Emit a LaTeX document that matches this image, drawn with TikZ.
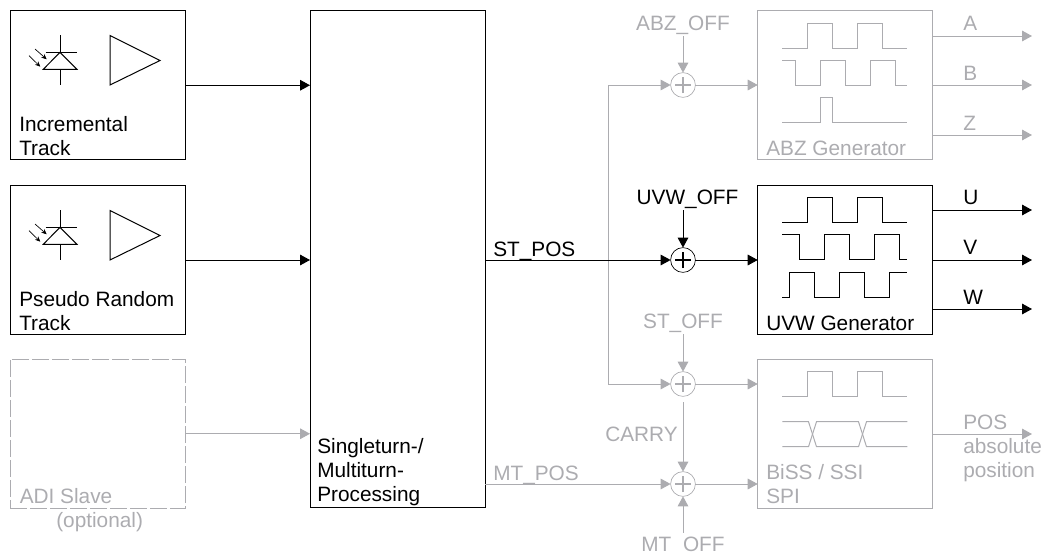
\documentclass[tikz,border=0pt]{standalone}
\usepackage{xcolor}
\usepackage{fontspec}
\setmainfont{Liberation Sans}
\usetikzlibrary{shapes,arrows.meta,positioning}
\definecolor{fade}{HTML}{ACACB0}

\begin{document}
\begin{tikzpicture}[
  x=0.75pt,
  y=-0.75pt,
  box/.style={
    rectangle,
    draw=black,
    line width=0.75pt,
    outer sep=0pt,
    minimum width=130.9pt,
    minimum height=112.1pt
  },
  fadebox/.style={
    box,
    draw=fade
  },
  sumnode/.style={
    circle,
    draw=#1,
    fill=white,
    line width=0.5pt,
    inner sep=0pt,
    outer sep=0pt,
    minimum size=18.6pt,
    path picture={
      \draw[#1, line width=1.3pt]
        ([xshift=-6pt]path picture bounding box.center) -- ([xshift=6pt]path picture bounding box.center)
        ([yshift=-6pt]path picture bounding box.center) -- ([yshift=6pt]path picture bounding box.center);
    }
  },
  txt/.style={
    anchor=base west,
    inner sep=0pt,
    align=left,
    font=\fontsize{15.6}{18}\selectfont
  },
  offtxt/.style={
    anchor=base,
    inner sep=0pt,
    text depth=4.5pt,
    font=\fontsize{15.6}{18}\selectfont
  },
  arrow/.style={
    -{Triangle[length=7.5pt,width=8pt]},
    line width=0.75pt
  },
  wave/.style={
    line width=0.75pt
  }
]
  \useasboundingbox (0,0) rectangle (1046,553);

  % Input tracks
  \node[box] (incr) at (97.75,85.25) {};
  \node[box] (pseudo) at (97.75,260) {};
  \node[fadebox, dash pattern=on 12.5pt off 2.5pt] (adi) at (97.75,433.75) {};
  \node[txt] (incrtxt) at (19,155) {Incremental\\Track};
  \node[txt] (pseudotxt) at (19,330) {Pseudo Random\\Track};
  \node[txt, fade] (aditxt) at (19.5,503) {ADI Slave};
  \node[txt, fade] (opttxt) at (56,527) {(optional)};

  % Photodiode and amplifier, upper track
  \draw[wave] (45.7,52.3) -- (77,52.3);
  \draw[wave] (60,52.3) -- (43.3,69.3) -- (77,69.3) -- cycle;
  \draw[wave] (60,35) -- (60,52.3);
  \draw[wave] (60,69.3) -- (60,85);
  \draw[-{Stealth[length=4pt,width=3.5pt]}, line width=0.5pt] (35,49) -- (46.7,59.3);
  \draw[-{Stealth[length=4pt,width=3.5pt]}, line width=0.5pt] (29,55.7) -- (40.3,66.7);
  \draw[wave] (110,35.5) -- (160,60.5) -- (110,85) -- cycle;

  % Photodiode and amplifier, lower track
  \draw[wave] (45.7,227.3) -- (77,227.3);
  \draw[wave] (60,227.3) -- (43.3,244.3) -- (77,244.3) -- cycle;
  \draw[wave] (60,210) -- (60,227.3);
  \draw[wave] (60,244.3) -- (60,260);
  \draw[-{Stealth[length=4pt,width=3.5pt]}, line width=0.5pt] (35,224) -- (46.7,234.3);
  \draw[-{Stealth[length=4pt,width=3.5pt]}, line width=0.5pt] (29,230.7) -- (40.3,241.7);
  \draw[wave] (110,210.5) -- (160,235.5) -- (110,260) -- cycle;

  % Processing
  \node[box, minimum width=131.25pt, minimum height=373.1pt] (proc) at (397.5,259.25) {};
  \node[txt] (proctxt) at (317,501) {Singleturn-/\\Multiturn-\\Processing};

  % Generators
  \node[fadebox] (abz) at (845,85.25) {};
  \node[box] (uvw) at (845,260) {};
  \node[fadebox] (biss) at (845,433.75) {};
  \node[txt, fade] (abztxt) at (766,155.7) {ABZ Generator};
  \node[txt] (uvwtxt) at (766,330) {UVW Generator};
  \node[txt, fade] (bisstxt) at (766,503) {BiSS / SSI\\SPI};

  % Adders
  \node[sumnode=fade] (sumabz) at (683,85) {};
  \node[sumnode=black] (sumuvw) at (683,260) {};
  \node[sumnode=fade] (sumst) at (683,384) {};
  \node[sumnode=fade] (summt) at (683,484) {};

  % Offsets
  \node[offtxt, fade] (abzoff) at (683,30) {ABZ\_OFF};
  \node[offtxt] (uvwoff) at (687.5,204) {UVW\_OFF};
  \node[offtxt, fade] (stoff) at (683,328) {ST\_OFF};
  \node[offtxt, fade, text depth=0pt, text height=13.5pt] (mtoff) at (683,551) {MT\_OFF};
  \node[txt, fade] (carrytxt) at (605,441) {CARRY};

  % Bus labels
  \node[txt] (stpos) at (493,256) {ST\_POS};
  \node[txt, fade] (mtpos) at (493,480) {MT\_POS};
  \coordinate (branch) at (608,260);

  % Output ends
  \coordinate (aend) at (1032,36);
  \coordinate (bend) at (1032,85);
  \coordinate (zend) at (1032,135);
  \coordinate (uend) at (1032,210);
  \coordinate (vend) at (1032,260);
  \coordinate (wend) at (1032,309);
  \coordinate (posend) at (1032,434);

  % Output labels
  \node[txt, fade] (atxt) at (963,30) {A};
  \node[txt, fade] (btxt) at (963,80) {B};
  \node[txt, fade] (ztxt) at (963,130) {Z};
  \node[txt] (utxt) at (963,204) {U};
  \node[txt] (vtxt) at (963,254) {V};
  \node[txt] (wtxt) at (963,304) {W};
  \node[txt, fade] (postxt) at (963,429) {POS};
  \node[txt, fade] (abstxt) at (963,477) {absolute\\position};

  % ABZ waveforms
  \draw[wave, fade] (782.3,48.3) -- (807.7,48.3) -- (807.7,23.3) -- (832.7,23.3) -- (832.7,48.3) -- (857.7,48.3) -- (857.7,23.3) -- (882.7,23.3) -- (882.7,48.3) -- (907.3,48.3);
  \draw[wave, fade] (782.3,60.3) -- (795.3,60.3) -- (795.3,85) -- (820.3,85) -- (820.3,60.3) -- (845.3,60.3) -- (845.3,85) -- (870.3,85) -- (870.3,60.3) -- (895.3,60.3) -- (895.3,85) -- (907.3,85);
  \draw[wave, fade] (782.3,122.7) -- (820.3,122.7) -- (820.3,97.7) -- (832.7,97.7) -- (832.7,122.7) -- (907.3,122.7);

  % UVW waveforms
  \draw[wave] (782.3,222.3) -- (807.7,222.3) -- (807.7,197.3) -- (832.7,197.3) -- (832.7,222.3) -- (857.7,222.3) -- (857.7,197.3) -- (882.7,197.3) -- (882.7,222.3) -- (907.3,222.3);
  \draw[wave] (782.3,234.7) -- (799.3,234.7) -- (799.3,259.7) -- (824.3,259.7) -- (824.3,234.7) -- (849.3,234.7) -- (849.3,259.7) -- (874.3,259.7) -- (874.3,234.7) -- (899.3,234.7) -- (899.3,259.7) -- (907.3,259.7);
  \draw[wave] (782.3,297.3) -- (789.3,297.3) -- (789.3,272.3) -- (814.3,272.3) -- (814.3,297.3) -- (839.3,297.3) -- (839.3,272.3) -- (864.3,272.3) -- (864.3,297.3) -- (889.3,297.3) -- (889.3,272.3) -- (907.3,272.3);

  % BiSS waveforms
  \draw[wave, fade] (782.3,396.7) -- (807.7,396.7) -- (807.7,371.7) -- (832.7,371.7) -- (832.7,396.7) -- (857.7,396.7) -- (857.7,371.7) -- (882.7,371.7) -- (882.7,396.7) -- (907.3,396.7);
  \draw[wave, fade] (782.3,421.7) -- (808.5,421.7) -- (816.5,446.7) -- (858.5,446.7) -- (866.5,421.7) -- (907.3,421.7);
  \draw[wave, fade] (782.3,446.7) -- (808.5,446.7) -- (816.5,421.7) -- (858.5,421.7) -- (866.5,446.7) -- (907.3,446.7);

  % Arrows - Inputs
  \draw[arrow] (incr.east) -- (proc.west |- incr.east);
  \draw[arrow] (pseudo.east) -- (proc.west |- pseudo.east);
  \draw[arrow, fade] (adi.east) -- (proc.west |- adi.east);

  % Arrows - Position buses
  \draw[arrow, fade] (branch) |- (sumabz);
  \draw[arrow, fade] (branch) |- (sumst);
  \draw[arrow] (proc.east |- sumuvw) -- (sumuvw);
  \draw[arrow, fade] (proc.east |- summt) -- (summt);

  % Arrows - Offsets
  \draw[arrow, fade] (abzoff.south) -- (sumabz);
  \draw[arrow] (uvwoff.south -| sumuvw) -- (sumuvw);
  \draw[arrow, fade] (stoff.south) -- (sumst);
  \draw[arrow, fade] (mtoff.north) -- (summt);
  \draw[arrow, fade, shorten <=4.5pt] (sumst) -- (summt);

  % Arrows - To generators
  \draw[arrow, fade] (sumabz) -- (abz.west |- sumabz);
  \draw[arrow] (sumuvw) -- (uvw.west |- sumuvw);
  \draw[arrow, fade] (sumst) -- (biss.west |- sumst);
  \draw[arrow, fade] (summt) -- (biss.west |- summt);

  % Arrows - Outputs
  \draw[arrow, fade] (abz.east |- aend) -- (aend);
  \draw[arrow, fade] (abz.east |- bend) -- (bend);
  \draw[arrow, fade] (abz.east |- zend) -- (zend);
  \draw[arrow] (uvw.east |- uend) -- (uend);
  \draw[arrow] (uvw.east |- vend) -- (vend);
  \draw[arrow] (uvw.east |- wend) -- (wend);
  \draw[arrow, fade] (biss.east |- posend) -- (posend);

\end{tikzpicture}
\end{document}
